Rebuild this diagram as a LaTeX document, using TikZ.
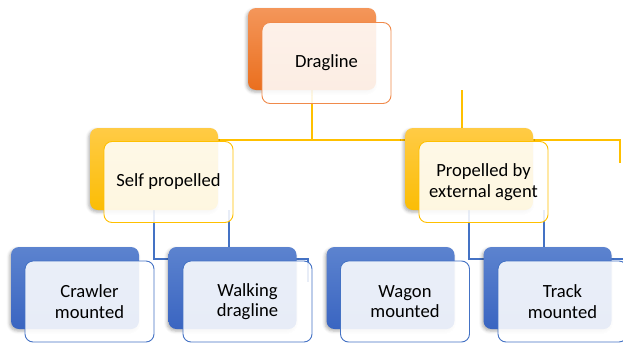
\documentclass[tikz,border=0pt]{standalone}
\usepackage{fontspec}
\setmainfont{Carlito}
\usetikzlibrary{shadows.blur}
\pgfdeclarelayer{bg}
\pgfsetlayers{bg,main}
\definecolor{orT}{HTML}{F4965A}
\definecolor{orB}{HTML}{EA6F1E}
\definecolor{orL}{HTML}{F08A4B}
\definecolor{yeT}{HTML}{FFCB45}
\definecolor{yeB}{HTML}{FBBD05}
\definecolor{yeL}{HTML}{FFC000}
\definecolor{blT}{HTML}{5C83CF}
\definecolor{blB}{HTML}{3A65C1}
\definecolor{blL}{HTML}{4472C4}
\tikzset{
  backbox/.style 2 args={rounded corners=8pt, minimum width=128pt, minimum height=82pt,
    inner sep=0pt, top color=#1, bottom color=#2, draw=none,
    blur shadow={shadow xshift=-1.5pt, shadow yshift=-2pt, shadow blur radius=3pt, shadow opacity=30}},
  frontbox/.style={rounded corners=8pt, minimum width=129pt, minimum height=81pt,
    inner sep=2pt, fill=white, fill opacity=0.88, text opacity=1, draw=#1, draw opacity=1,
    line width=0.9pt, align=center, font=\fontsize{18.6}{20.5}\selectfont},
  yline/.style={draw=yeL, line width=2.2pt},
  bline/.style={draw=blL, line width=2pt},
}
\begin{document}
\begin{tikzpicture}[x=1pt,y=-1pt]
\useasboundingbox (0,0) rectangle (623,343);
% back boxes
\node[backbox={orT}{orB}] (dragB) at (312,49) {};
\node[backbox={yeT}{yeB}] (selfB) at (154,169) {};
\node[backbox={yeT}{yeB}] (propB) at (469,169) {};
\node[backbox={blT}{blB}] (crawB) at (75,288) {};
\node[backbox={blT}{blB}] (walkB) at (232.5,288) {};
\node[backbox={blT}{blB}] (wagB) at (390.5,288) {};
\node[backbox={blT}{blB}] (trackB) at (547.5,288) {};
% front boxes
\node[frontbox=orL] (drag) at (326.5,63) {Dragline};
\node[frontbox=yeL] (self) at (168.5,182) {Self propelled};
\node[frontbox=yeL] (prop) at (483.5,182) {Propelled by\\external agent};
\node[frontbox=blL] (craw) at (89.5,301.5) {Crawler\\mounted};
\node[frontbox=blL] (walk) at (247.5,301.5) {Walking\\dragline};
\node[frontbox=blL] (wag) at (405,301.5) {Wagon\\mounted};
\node[frontbox=blL] (track) at (562.5,301.5) {Track\\mounted};
% junction coordinates
\coordinate (yj) at (0,140);
\coordinate (yend) at (620,163);
\coordinate (ystub) at (462,90);
\coordinate (bj) at (0,259);
\coordinate (bendL) at (308,282);
\coordinate (bstubL) at (229,210);
\coordinate (bstubR) at (544,210);
\coordinate (bendR) at (630,259);
\begin{pgfonlayer}{bg}
\draw[yline] (dragB.center) -- (dragB.center |- yj);
\draw[yline] (selfB.center |- yj) -- (yend |- yj) -- (yend);
\draw[yline] (ystub) -- (ystub |- propB.center);
\draw[bline] (selfB.center) -- (selfB.center |- bj) -- (bendL |- bj) -- (bendL);
\draw[bline] (bstubL) -- (bstubL |- walkB.center);
\draw[bline] (propB.center) -- (propB.center |- bj) -- (bendR);
\draw[bline] (bstubR) -- (bstubR |- trackB.center);
\end{pgfonlayer}
\end{tikzpicture}
\end{document}
